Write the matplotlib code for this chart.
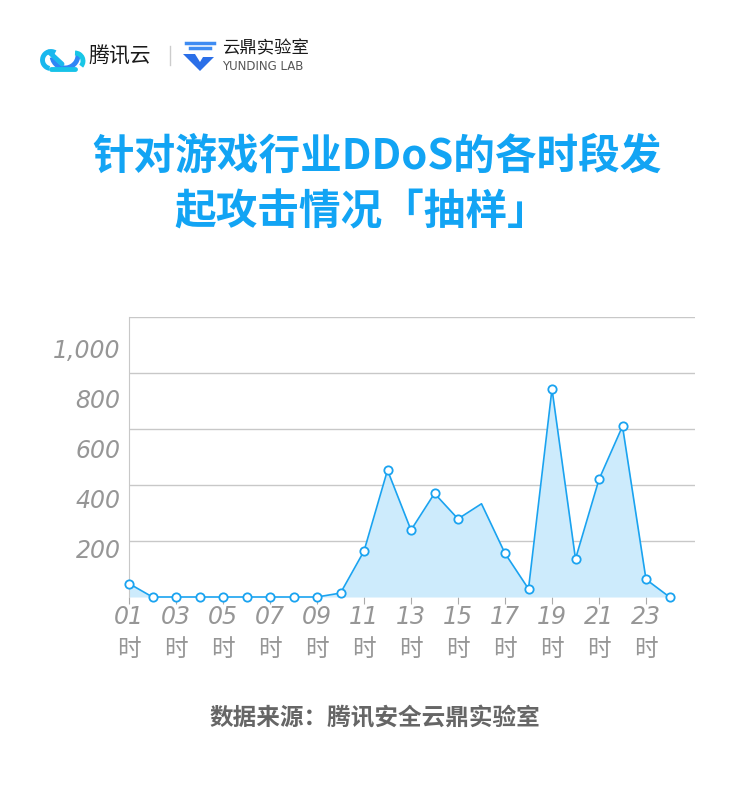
import numpy as np
import matplotlib.pyplot as plt
from matplotlib.patches import Arc, Polygon

plt.rcParams['font.family'] = ['DejaVu Sans', 'Noto Sans CJK SC']

# data: attacks per hour (sampled)
hours = list(range(1, 25))
attacks = [48, 0, 0, 0, 0, 0, 0, 0, 0, 14, 164, 453, 239, 370, 279, 333,
           156, 29, 743, 136, 420, 610, 63, 0]
xTicks = list(range(1, 24, 2))
xLabels = ['%02d\n时' % h for h in xTicks]
yTicks = [200, 400, 600, 800, 1000]
yLabels = ['200', '400', '600', '800', '1,000']

title = '针对游戏行业DDoS的各时段发\n起攻击情况「抽样」'
source = '数据来源：腾讯安全云鼎实验室'

blue = '#1aa3f0'
fill = '#cdebfc'
gray = '#969696'

W, H = 750, 812
fig = plt.figure(figsize=(W / 100, H / 100), dpi=100)

# main chart
ax = fig.add_axes([129 / W, 1 - 598 / H, 566 / W, 280 / H])
ax.set_xlim(1, 1 + 566 / 23.5)
ax.set_ylim(0, 1000)
ax.fill_between(hours, attacks, 0, color=fill, lw=0)
marks = [i for i in range(len(hours)) if hours[i] != 16]  # no marker at 16h
ax.plot(hours, attacks, color=blue, lw=1.2, marker='o', markevery=marks,
        markersize=6, markerfacecolor='white', markeredgecolor=blue,
        markeredgewidth=1.3, clip_on=False, zorder=3)
ax.set_yticks(yTicks)
ax.yaxis.grid(True, color='#c8c8c8', lw=1)
ax.set_axisbelow(True)
ax.tick_params(axis='y', length=0, labelleft=False)
for s in ['top', 'right', 'bottom']:
    ax.spines[s].set_visible(False)
ax.spines['left'].set_color('#c8c8c8')

# y tick labels sit on their own (tighter) scale in the original
ay = ax.twinx()
ay.set_ylim(0, 1120)
ay.set_yticks(yTicks)
ay.set_yticklabels(yLabels, fontsize=17, style='italic', color=gray)
ay.yaxis.tick_left()
ay.tick_params(axis='y', length=0, pad=6)
for s in ay.spines.values():
    s.set_visible(False)

ax.set_xticks(xTicks)
ax.set_xticklabels(xLabels, fontsize=17, style='italic', color=gray,
                   linespacing=1.45)
ax.tick_params(axis='x', length=5, color='#aaaaaa', pad=0)

# overlay in pixel coords for header / footer
ov = fig.add_axes([0, 0, 1, 1])
ov.set_xlim(0, W)
ov.set_ylim(H, 0)
ov.axis('off')

ov.text(377, 157, title.split('\n')[0], ha='center', va='center',
        fontsize=30, fontweight='bold', color='#12a4f4',
        family=['Noto Sans CJK SC', 'DejaVu Sans'])
ov.text(362, 212, title.split('\n')[1], ha='center', va='center',
        fontsize=30, fontweight='bold', color='#12a4f4',
        family=['Noto Sans CJK SC', 'DejaVu Sans'])
ov.text(375, 718, source, ha='center', va='center', fontsize=17,
        fontweight='bold', color='#666666',
        family=['Noto Sans CJK SC', 'DejaVu Sans'])

# tencent cloud logo
ov.add_patch(Arc((51, 61), 17, 17, theta1=100, theta2=300, color='#1ab8ee', lw=3.5))
ov.add_patch(Arc((65, 56), 26, 26, theta1=-10, theta2=170, color='#2f86f6', lw=3.5))
ov.add_patch(Arc((75, 62), 16, 16, theta1=-90, theta2=40, color='#18c6e6', lw=3.5))
ov.plot([51, 75], [70, 70], color='#17c2e8', lw=3.5, solid_capstyle='round')
ov.plot([49, 62], [53, 65], color='#1ab8ee', lw=3.5, solid_capstyle='round')
ov.text(88, 57, '腾讯云', ha='left', va='center', fontsize=15,
        color='#1a1a1a', family=['Noto Sans CJK SC'])
ov.plot([170, 170], [47, 66], color='#cccccc', lw=1)

# yunding lab logo
ov.plot([186, 214], [44, 44], color='#3f8cf2', lw=2.5)
ov.plot([190, 210], [49, 49], color='#3f8cf2', lw=2.5)
ov.add_patch(Polygon([[183, 55], [200, 72], [214, 58], [203, 58], [200, 63],
                      [195, 55]], closed=True, color='#2b6fe8', lw=0))
ov.text(222, 48, '云鼎实验室', ha='left', va='center', fontsize=12.5,
        color='#1a1a1a', family=['Noto Sans CJK SC'])
ov.text(222, 66, 'YUNDING LAB', ha='left', va='center', fontsize=8.5,
        color='#555555', family=['DejaVu Sans'])

fig.savefig('out.png', dpi=100)
